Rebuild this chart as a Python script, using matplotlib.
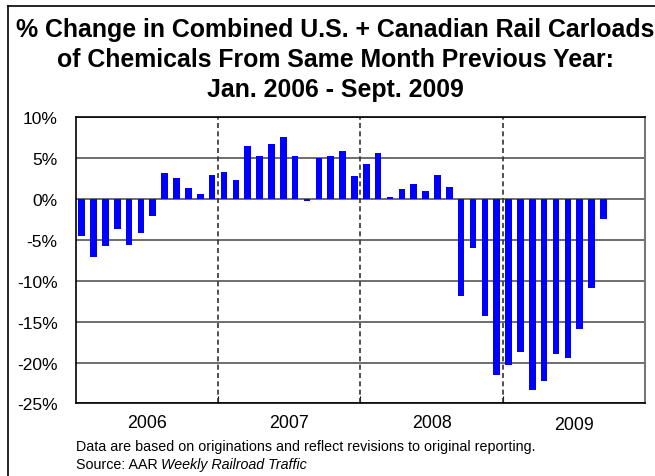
import matplotlib
matplotlib.use("Agg")
import matplotlib.pyplot as plt
from matplotlib.lines import Line2D

plt.rcParams['font.family'] = ['Liberation Sans', 'DejaVu Sans']

# % change from same month previous year, Jan 2006 - Sep 2009
pct_change = [
    -4.5, -7.1, -5.7, -3.7, -5.6, -4.2, -2.1, 3.1, 2.6, 1.3, 0.6, 2.9,   # 2006
    3.3, 2.25, 6.4, 5.2, 6.7, 7.5, 5.2, -0.3, 5.0, 5.2, 5.9, 2.8,       # 2007
    4.2, 5.6, 0.2, 1.15, 1.8, 0.9, 2.9, 1.4, -11.9, -6.0, -14.3, -21.5, # 2008
    -20.3, -18.7, -23.3, -22.2, -18.9, -19.4, -15.9, -10.9, -2.4,      # 2009
]
years = ['2006', '2007', '2008', '2009']
yticks = [10, 5, 0, -5, -10, -15, -20, -25]
months_per_year = 12

fig = plt.figure(figsize=(6.55, 4.77), dpi=100)
ax = fig.add_axes([0.1156, 0.152, 0.8691, 0.6006])

x = list(range(len(pct_change)))
ax.bar(x, pct_change, width=0.56, color='#0000FF', zorder=3)

ax.set_xlim(-0.5, len(years) * months_per_year - 0.5)
ax.set_ylim(-25, 10)
ax.set_yticks(yticks)
ax.set_yticklabels([f'{v}%' for v in yticks], fontsize=12.5)
ax.tick_params(axis='y', length=0, pad=13)
ax.yaxis.grid(True, color='#555555', linewidth=1.2, zorder=1)

# year boundaries
bounds = [months_per_year * i - 0.5 for i in range(1, len(years))]
ax.set_xticks(bounds)
ax.set_xticklabels([])
ax.tick_params(axis='x', direction='in', length=5, color='black')
for b in bounds:
    ax.axvline(b, color='#333333', linestyle=(0, (3, 2)), linewidth=1.2, zorder=2)

for i, yr in enumerate(years):
    xc = months_per_year * i + (months_per_year - 1) / 2
    dy = -0.075 if yr == '2009' else -0.068
    ax.text(xc, dy, yr, transform=ax.get_xaxis_transform(),
            ha='center', va='center', fontsize=12.8)

for side in ['left', 'top', 'bottom']:
    ax.spines[side].set_color('black')
    ax.spines[side].set_linewidth(1.2)
ax.spines['right'].set_color('#777777')
ax.spines['right'].set_linewidth(1.5)

fig.text(0.512, 0.874, '% Change in Combined U.S. + Canadian Rail Carloads\n'
         'of Chemicals From Same Month Previous Year:\n'
         'Jan. 2006 - Sept. 2009',
         ha='center', va='center', fontsize=17.9, fontweight='bold',
         linespacing=1.3)

fig.text(0.1156, 0.063, 'Data are based on originations and reflect revisions to original reporting.',
         fontsize=10.3, va='center')
src = fig.text(0.1156, 0.025, 'Source: AAR ', fontsize=10.3, va='center')
fig.canvas.draw()
bb = src.get_window_extent().transformed(fig.transFigure.inverted())
fig.text(bb.x1, 0.025, 'Weekly Railroad Traffic', fontsize=10.3, va='center',
         style='italic')

# outer frame: top and left edges
fig.add_artist(Line2D([8 / 655, 1], [1 - 7 / 477, 1 - 7 / 477], color='black',
                      linewidth=1.2, transform=fig.transFigure))
fig.add_artist(Line2D([8 / 655, 8 / 655], [0, 1 - 7 / 477], color='black',
                      linewidth=1.2, transform=fig.transFigure))

fig.savefig('out.png', dpi=100)
